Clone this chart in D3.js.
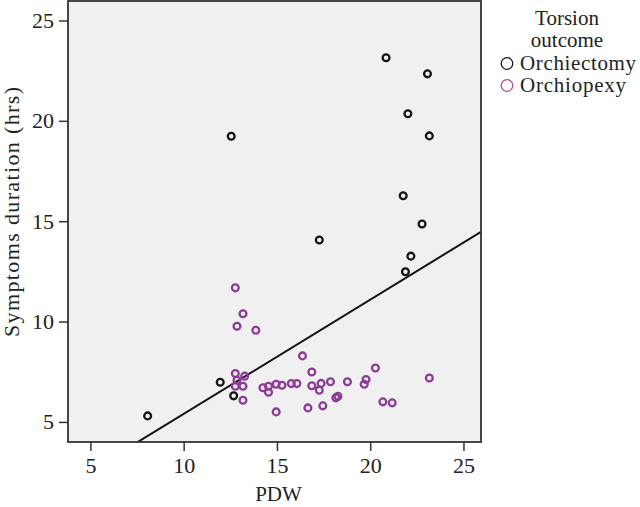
<!DOCTYPE html>
<html>
<head>
<meta charset="utf-8">
<script src="https://d3js.org/d3.v7.min.js"></script>
<style>
  body { margin: 0; background: #fff; }
  text { font-family: "Liberation Serif", "DejaVu Serif", serif; fill: #222; }
</style>
</head>
<body>
<svg id="chart" width="640" height="507"></svg>
<script>
// PDW vs symptoms duration (hrs)
var orchiectomy_pdw = [12.55, 20.85, 23.07, 22.02, 23.17, 21.77, 22.78, 22.18, 21.89, 17.27, 8.07, 11.96, 12.68];
var orchiectomy_hrs = [19.23, 23.14, 22.34, 20.35, 19.25, 16.27, 14.86, 13.26, 12.48, 14.06, 5.30, 6.98, 6.30];

var orchiopexy_pdw = [12.77, 13.18, 12.86, 13.87, 16.37, 12.77, 13.27, 12.86, 12.77, 13.18,
                      13.18, 14.25, 14.55, 14.55, 14.96, 15.27, 14.96, 15.77, 16.07, 16.87,
                      16.87, 17.37, 17.27, 17.87, 18.78, 19.78, 19.68, 20.28, 23.17, 18.16,
                      18.27, 16.66, 17.46, 20.68, 21.18];
var orchiopexy_hrs = [11.68, 10.39, 9.77, 9.57, 8.29, 7.41, 7.28, 7.08, 6.78, 6.78,
                      6.08, 6.70, 6.78, 6.48, 6.88, 6.83, 5.50, 6.91, 6.91, 7.49,
                      6.80, 6.92, 6.58, 7.00, 7.00, 7.11, 6.88, 7.69, 7.19, 6.20,
                      6.28, 5.70, 5.80, 6.00, 5.95];

// fit line (intercept, slope) as drawn in the picture
var fit_line = [-0.29, 0.569];

var x_ticks = [5, 10, 15, 20, 25];
var y_ticks = [5, 10, 15, 20, 25];
var legend_labels = ["Orchiectomy", "Orchiopexy"];
var legend_colors = ["#1a1a1a", "#b24f88"];
var point_colors = ["#151515", "#8d3b97"];

var plot_left = 68, plot_right = 481, plot_top = 1, plot_bottom = 442;

var svg = d3.select("#chart");

var x = d3.scaleLinear().domain([3.8, 25.94]).range([plot_left, plot_right]);
var y = d3.scaleLinear().domain([4.0, 25.97]).range([plot_bottom, plot_top]);

// plot background
svg.append("rect")
  .attr("x", plot_left).attr("y", plot_top)
  .attr("width", plot_right - plot_left).attr("height", plot_bottom - plot_top)
  .attr("fill", "#f0f0f0");

svg.append("clipPath").attr("id", "plotclip")
  .append("rect")
  .attr("x", plot_left).attr("y", plot_top)
  .attr("width", plot_right - plot_left).attr("height", plot_bottom - plot_top);

var xd = x.domain();
svg.append("line")
  .attr("clip-path", "url(#plotclip)")
  .attr("x1", x(xd[0])).attr("y1", y(fit_line[0] + fit_line[1] * xd[0]))
  .attr("x2", x(xd[1])).attr("y2", y(fit_line[0] + fit_line[1] * xd[1]))
  .attr("stroke", "#111")
  .attr("stroke-width", 2);

function add_points(pdw, hrs, color) {
  svg.append("g").selectAll("circle")
    .data(d3.range(pdw.length))
    .enter()
    .append("circle")
      .attr("cx", function(i) { return x(pdw[i]); })
      .attr("cy", function(i) { return y(hrs[i]); })
      .attr("r", 3.4)
      .attr("fill", "none")
      .attr("stroke", color)
      .attr("stroke-width", 2.3);
}
add_points(orchiectomy_pdw, orchiectomy_hrs, point_colors[0]);
add_points(orchiopexy_pdw, orchiopexy_hrs, point_colors[1]);

// frame
svg.append("rect")
  .attr("x", plot_left).attr("y", plot_top)
  .attr("width", plot_right - plot_left).attr("height", plot_bottom - plot_top)
  .attr("fill", "none")
  .attr("stroke", "#333")
  .attr("stroke-width", 1.8);

var xAxis = svg.append("g")
  .attr("transform", "translate(0," + plot_bottom + ")")
  .call(d3.axisBottom(x).tickValues(x_ticks).tickSize(9).tickPadding(6).tickFormat(d3.format("d")));
var yAxis = svg.append("g")
  .attr("transform", "translate(" + plot_left + ",0)")
  .call(d3.axisLeft(y).tickValues(y_ticks).tickSize(9).tickPadding(5).tickFormat(d3.format("d")));

[xAxis, yAxis].forEach(function(ax) {
  ax.select(".domain").remove();
  ax.selectAll(".tick line").attr("stroke", "#333").attr("stroke-width", 1.5);
  ax.selectAll(".tick text")
    .attr("fill", "#222")
    .style("font-family", "'Liberation Serif', serif")
    .style("font-size", "22px");
});

svg.append("text")
  .attr("x", (plot_left + plot_right) / 2 + 4)
  .attr("y", 501)
  .attr("text-anchor", "middle")
  .style("font-size", "21px")
  .text("PDW");

svg.append("text")
  .attr("transform", "translate(19,212) rotate(-90)")
  .attr("text-anchor", "middle")
  .style("font-size", "22px")
  .attr("textLength", 250)
  .text("Symptoms duration (hrs)");

// legend
var legend = svg.append("g");
legend.append("text").attr("x", 567).attr("y", 25)
  .attr("text-anchor", "middle").style("font-size", "21px").text("Torsion");
legend.append("text").attr("x", 567).attr("y", 47)
  .attr("text-anchor", "middle").style("font-size", "21px").text("outcome");

var items = legend.selectAll("g.item")
  .data(legend_labels)
  .enter()
  .append("g")
    .attr("class", "item")
    .attr("transform", function(d, i) { return "translate(0," + (70 + i * 22) + ")"; });
items.append("circle")
  .attr("cx", 507).attr("cy", -6.5).attr("r", 5.8)
  .attr("fill", "none")
  .attr("stroke", function(d, i) { return legend_colors[i]; })
  .attr("stroke-width", 1.3);
items.append("text")
  .attr("x", 520)
  .attr("textLength", function(d, i) { return i === 0 ? 116 : 106; })
  .style("font-size", "21px")
  .text(function(d) { return d; });
</script>
</body>
</html>
